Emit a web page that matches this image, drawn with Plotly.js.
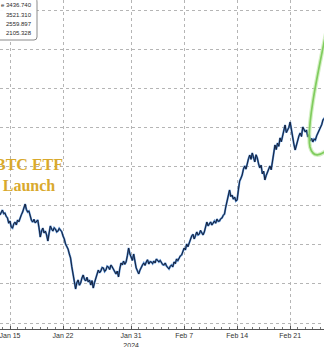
<!DOCTYPE html>
<html>
<head>
<meta charset="utf-8">
<script src="https://cdn.plot.ly/plotly-3.0.1.min.js"></script>
<style>
html,body{margin:0;padding:0;background:#fff;}
#chart{width:324px;height:347px;}
</style>
</head>
<body>
<div id="chart"></div>
<script>
var dates = [
'2024-01-13 16:00','2024-01-13 20:00',
'2024-01-14 00:00','2024-01-14 04:00','2024-01-14 08:00','2024-01-14 12:00','2024-01-14 16:00','2024-01-14 20:00',
'2024-01-15 00:00','2024-01-15 04:00','2024-01-15 08:00','2024-01-15 12:00','2024-01-15 16:00','2024-01-15 20:00',
'2024-01-16 00:00','2024-01-16 04:00','2024-01-16 08:00','2024-01-16 12:00','2024-01-16 16:00','2024-01-16 20:00',
'2024-01-17 00:00','2024-01-17 04:00','2024-01-17 08:00','2024-01-17 12:00','2024-01-17 16:00','2024-01-17 20:00',
'2024-01-18 00:00','2024-01-18 04:00','2024-01-18 08:00','2024-01-18 12:00','2024-01-18 16:00','2024-01-18 20:00',
'2024-01-19 00:00','2024-01-19 04:00','2024-01-19 08:00','2024-01-19 12:00','2024-01-19 16:00','2024-01-19 20:00',
'2024-01-20 00:00','2024-01-20 04:00','2024-01-20 08:00','2024-01-20 12:00','2024-01-20 16:00','2024-01-20 20:00',
'2024-01-21 00:00','2024-01-21 04:00','2024-01-21 08:00','2024-01-21 12:00','2024-01-21 16:00','2024-01-21 20:00',
'2024-01-22 00:00','2024-01-22 04:00','2024-01-22 08:00','2024-01-22 12:00','2024-01-22 16:00','2024-01-22 20:00',
'2024-01-23 00:00','2024-01-23 04:00','2024-01-23 08:00','2024-01-23 12:00','2024-01-23 16:00','2024-01-23 20:00',
'2024-01-24 00:00','2024-01-24 04:00','2024-01-24 08:00','2024-01-24 12:00','2024-01-24 16:00','2024-01-24 20:00',
'2024-01-25 00:00','2024-01-25 04:00','2024-01-25 08:00','2024-01-25 12:00','2024-01-25 16:00','2024-01-25 20:00',
'2024-01-26 00:00','2024-01-26 04:00','2024-01-26 08:00','2024-01-26 12:00','2024-01-26 16:00','2024-01-26 20:00',
'2024-01-27 00:00','2024-01-27 04:00','2024-01-27 08:00','2024-01-27 12:00','2024-01-27 16:00','2024-01-27 20:00',
'2024-01-28 00:00','2024-01-28 04:00','2024-01-28 08:00','2024-01-28 12:00','2024-01-28 16:00','2024-01-28 20:00',
'2024-01-29 00:00','2024-01-29 04:00','2024-01-29 08:00','2024-01-29 12:00','2024-01-29 16:00','2024-01-29 20:00',
'2024-01-30 00:00','2024-01-30 04:00','2024-01-30 08:00','2024-01-30 12:00','2024-01-30 16:00','2024-01-30 20:00',
'2024-01-31 00:00','2024-01-31 04:00','2024-01-31 08:00','2024-01-31 12:00','2024-01-31 16:00','2024-01-31 20:00',
'2024-02-01 00:00','2024-02-01 04:00','2024-02-01 08:00','2024-02-01 12:00','2024-02-01 16:00','2024-02-01 20:00',
'2024-02-02 00:00','2024-02-02 04:00','2024-02-02 08:00','2024-02-02 12:00','2024-02-02 16:00','2024-02-02 20:00',
'2024-02-03 00:00','2024-02-03 04:00','2024-02-03 08:00','2024-02-03 12:00','2024-02-03 16:00','2024-02-03 20:00',
'2024-02-04 00:00','2024-02-04 04:00','2024-02-04 08:00','2024-02-04 12:00','2024-02-04 16:00','2024-02-04 20:00',
'2024-02-05 00:00','2024-02-05 04:00','2024-02-05 08:00','2024-02-05 12:00','2024-02-05 16:00','2024-02-05 20:00',
'2024-02-06 00:00','2024-02-06 04:00','2024-02-06 08:00','2024-02-06 12:00','2024-02-06 16:00','2024-02-06 20:00',
'2024-02-07 00:00','2024-02-07 04:00','2024-02-07 08:00','2024-02-07 12:00','2024-02-07 16:00','2024-02-07 20:00',
'2024-02-08 00:00','2024-02-08 04:00','2024-02-08 08:00','2024-02-08 12:00','2024-02-08 16:00','2024-02-08 20:00',
'2024-02-09 00:00','2024-02-09 04:00','2024-02-09 08:00','2024-02-09 12:00','2024-02-09 16:00','2024-02-09 20:00',
'2024-02-10 00:00','2024-02-10 04:00','2024-02-10 08:00','2024-02-10 12:00','2024-02-10 16:00','2024-02-10 20:00',
'2024-02-11 00:00','2024-02-11 04:00','2024-02-11 08:00','2024-02-11 12:00','2024-02-11 16:00','2024-02-11 20:00',
'2024-02-12 00:00','2024-02-12 04:00','2024-02-12 08:00','2024-02-12 12:00','2024-02-12 16:00','2024-02-12 20:00',
'2024-02-13 00:00','2024-02-13 04:00','2024-02-13 08:00','2024-02-13 12:00','2024-02-13 16:00','2024-02-13 20:00',
'2024-02-14 00:00','2024-02-14 04:00','2024-02-14 08:00','2024-02-14 12:00','2024-02-14 16:00','2024-02-14 20:00',
'2024-02-15 00:00','2024-02-15 04:00','2024-02-15 08:00','2024-02-15 12:00','2024-02-15 16:00','2024-02-15 20:00',
'2024-02-16 00:00','2024-02-16 04:00','2024-02-16 08:00','2024-02-16 12:00','2024-02-16 16:00','2024-02-16 20:00',
'2024-02-17 00:00','2024-02-17 04:00','2024-02-17 08:00','2024-02-17 12:00','2024-02-17 16:00','2024-02-17 20:00',
'2024-02-18 00:00','2024-02-18 04:00','2024-02-18 08:00','2024-02-18 12:00','2024-02-18 16:00','2024-02-18 20:00',
'2024-02-19 00:00','2024-02-19 04:00','2024-02-19 08:00','2024-02-19 12:00','2024-02-19 16:00','2024-02-19 20:00',
'2024-02-20 00:00','2024-02-20 04:00','2024-02-20 08:00','2024-02-20 12:00','2024-02-20 16:00','2024-02-20 20:00',
'2024-02-21 00:00','2024-02-21 04:00','2024-02-21 08:00','2024-02-21 12:00','2024-02-21 16:00','2024-02-21 20:00',
'2024-02-22 00:00','2024-02-22 04:00','2024-02-22 08:00','2024-02-22 12:00','2024-02-22 16:00','2024-02-22 20:00',
'2024-02-23 00:00','2024-02-23 04:00','2024-02-23 08:00','2024-02-23 12:00','2024-02-23 16:00','2024-02-23 20:00',
'2024-02-24 00:00','2024-02-24 04:00','2024-02-24 08:00','2024-02-24 12:00','2024-02-24 16:00','2024-02-24 20:00',
'2024-02-25 00:00','2024-02-25 04:00','2024-02-25 08:00','2024-02-25 12:00','2024-02-25 16:00'
];
var prices = [
44280,44520,
44660,44390,44430,44180,44050,43650,
43820,43350,43280,43600,43740,43520,
43900,43760,44130,44300,44510,44750,
45120,44700,44510,44580,44130,43880,
43740,43950,43670,43760,43900,43300,
42590,43050,43280,42900,43050,42750,
42290,42900,43440,43200,43050,43300,
43210,42980,43050,43250,43130,43000,
42670,42450,42060,41850,41670,41300,
40980,40300,39600,39050,38610,39100,
39300,38900,39070,39450,39680,39350,
39220,39500,39140,39300,38910,39250,
38680,39100,39450,39850,40060,39850,
39990,40250,40220,39950,40060,40350,
40290,40100,40450,40300,40140,39900,
39760,39980,39530,40150,40600,40450,
40750,40500,40680,41150,41750,41300,
41060,40800,41290,40700,40220,40000,
39760,40050,40290,40450,40600,40420,
40680,40850,40520,40700,40680,40550,
40750,40600,40910,40800,40680,40800,
40600,40480,40450,40600,40370,40250,
40140,40350,40450,40300,40680,40550,
40910,40780,40980,41150,41210,41500,
41750,41600,42060,41850,42130,42450,
42670,42800,42440,42700,42980,42750,
42820,43100,42900,42750,42980,43400,
43740,43450,43590,43750,43510,43650,
43820,43650,43970,43800,43820,44000,
44050,44250,44360,44900,45430,45900,
46200,45700,45810,45500,45660,45350,
45430,46200,46890,47100,47350,47800,
48040,47800,48350,48600,48880,48550,
49040,48700,48350,48900,48650,48200,
47890,48100,47430,47650,46970,47300,
47580,47900,48040,47750,48500,49100,
49650,49300,49800,49550,50190,49900,
50420,50750,51180,50600,50800,51000,
51410,50700,50260,49700,49270,49700,
50030,50350,50570,50300,51030,50850,
50650,50800,50260,50450,49960,50150,
49880,50100,50030,50350,50570,50800,
50950,51200,51570,51700,51800
];
var tickDates = ['2024-01-15','2024-01-22','2024-01-31','2024-02-07','2024-02-14','2024-02-21'];
var tickLabels = ['Jan 15','Jan 22','Jan 31<br>2024','Feb 7','Feb 14','Feb 21'];
var legendValues = ['3436.740','3521.310','2559.897','2105.328'];
var annotationText = 'BTC ETF<br>Launch';

var traces = [
  {x: dates, y: prices, type: 'scatter', mode: 'lines',
   line: {color: '#4f86c9', width: 2.0}, hoverinfo: 'skip', showlegend: false},
  {x: dates, y: prices, type: 'scatter', mode: 'lines',
   line: {color: '#15203a', width: 1.0}, hoverinfo: 'skip', showlegend: false}
];

var annotations = [
  {xref: 'paper', yref: 'paper', x: 0.0895, y: 0.4696, xanchor: 'center', yanchor: 'middle',
   text: annotationText, showarrow: false, align: 'center',
   font: {family: 'Liberation Serif, Times New Roman, serif', size: 16, color: '#d9a92c', weight: 'bold'}}
];
var rowY = [5, 15, 24, 33];
for (var i = 0; i < legendValues.length; i++) {
  annotations.push({xref: 'paper', yref: 'paper', x: 33.5/324, y: 1 - rowY[i]/329,
    xanchor: 'right', yanchor: 'middle', showarrow: false,
    text: (i === 0 ? 'e ' : '') + legendValues[i],
    font: {family: 'Liberation Sans, Arial, sans-serif', size: 6, color: '#2a2a2a'}});
}

function px(x){return (x/324).toFixed(4);}
function py(y){return (1 - y/329).toFixed(4);}

var loopPath = 'M ' + px(327) + ',' + py(28) + ' C ' + px(318) + ',' + py(72) + ' ' + px(306) + ',' + py(128) + ' ' + px(310) + ',' + py(147) +
         ' C ' + px(313) + ',' + py(158) + ' ' + px(320) + ',' + py(156) + ' ' + px(327) + ',' + py(150);

var shapes = [
  {type: 'path', xref: 'paper', yref: 'paper', layer: 'above',
   path: 'M ' + px(-2) + ',' + py(-2) + ' L ' + px(34) + ',' + py(-2) +
         ' Q ' + px(37) + ',' + py(-2) + ' ' + px(37) + ',' + py(2) +
         ' L ' + px(37) + ',' + py(37) +
         ' Q ' + px(37) + ',' + py(40) + ' ' + px(34) + ',' + py(40) +
         ' L ' + px(-2) + ',' + py(40) + ' Z',
   fillcolor: 'rgba(255,255,255,0.95)', line: {color: '#8a8a8a', width: 1}},
  {type: 'path', xref: 'paper', yref: 'paper', layer: 'above', path: loopPath,
   line: {color: 'rgba(175,228,145,0.55)', width: 4}},
  {type: 'path', xref: 'paper', yref: 'paper', layer: 'above', path: loopPath,
   line: {color: '#80cc5e', width: 1.7}}
];

var layout = {
  width: 324, height: 347,
  margin: {l: 0, r: 0, t: 0, b: 18, pad: 0},
  paper_bgcolor: '#ffffff', plot_bgcolor: '#ffffff',
  showlegend: false,
  xaxis: {
    type: 'date',
    range: ['2024-01-13 16:18', '2024-02-25 11:22'],
    tickvals: tickDates, ticktext: tickLabels,
    ticklabeloverflow: 'allow',
    showgrid: true, gridcolor: '#b5b5b5', griddash: 'dot', gridwidth: 1,
    showline: true, linecolor: '#555', linewidth: 1,
    ticks: 'inside', ticklen: 3, tickcolor: '#555',
    minor: {dtick: 86400000, ticks: 'inside', ticklen: 2, tickcolor: '#777', showgrid: false},
    tickfont: {family: 'Liberation Sans, Arial, sans-serif', size: 7, color: '#333'},
    zeroline: false, fixedrange: true
  },
  yaxis: {
    range: [35540, 60767],
    tick0: 36000, dtick: 3000,
    showgrid: true, gridcolor: '#b5b5b5', griddash: 'dot', gridwidth: 1,
    showticklabels: false, ticks: '', zeroline: false, showline: false, fixedrange: true
  },
  annotations: annotations,
  shapes: shapes
};

Plotly.newPlot('chart', traces, layout, {displayModeBar: false, staticPlot: true});
</script>
</body>
</html>
